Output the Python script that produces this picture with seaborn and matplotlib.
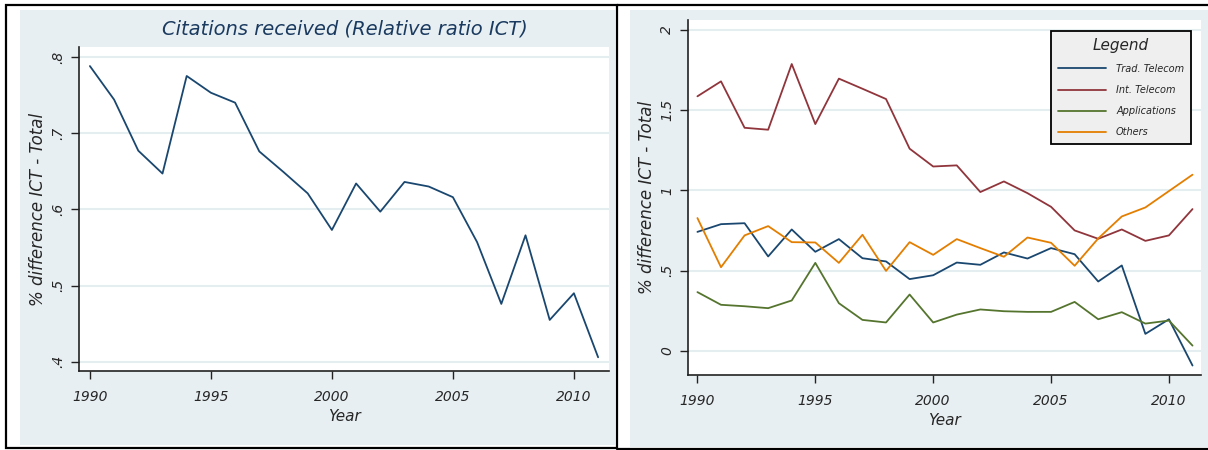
import pandas as pd
import matplotlib
matplotlib.use("Agg")
import matplotlib.pyplot as plt
from matplotlib.patches import Rectangle
from matplotlib.lines import Line2D
import seaborn as sns

# data
years = list(range(1990, 2012))

ict_ratio = [0.788, 0.744, 0.677, 0.647, 0.775, 0.753, 0.740, 0.676, 0.649, 0.621, 0.573,
             0.634, 0.597, 0.636, 0.630, 0.616, 0.557, 0.476, 0.566, 0.455, 0.490, 0.406]

trad_telecom = [0.741, 0.789, 0.795, 0.588, 0.756, 0.617, 0.696, 0.577, 0.557, 0.447, 0.471,
                0.550, 0.536, 0.613, 0.575, 0.640, 0.602, 0.432, 0.532, 0.106, 0.197, -0.091]
int_telecom = [1.585, 1.678, 1.389, 1.377, 1.786, 1.412, 1.695, 1.632, 1.568, 1.259, 1.148,
               1.155, 0.989, 1.055, 0.982, 0.897, 0.750, 0.698, 0.756, 0.685, 0.719, 0.883]
applications = [0.366, 0.287, 0.278, 0.266, 0.314, 0.548, 0.297, 0.193, 0.177, 0.351, 0.177,
                0.226, 0.258, 0.247, 0.243, 0.243, 0.305, 0.197, 0.241, 0.170, 0.189, 0.033]
others = [0.827, 0.521, 0.719, 0.777, 0.677, 0.675, 0.548, 0.723, 0.498, 0.677, 0.598,
          0.696, 0.640, 0.586, 0.706, 0.673, 0.530, 0.700, 0.837, 0.893, 0.995, 1.097]

series_names = ["Trad. Telecom", "Int. Telecom", "Applications", "Others"]
series_colors = ["#1a476f", "#90353b", "#55752f", "#e37e00"]

left_yticks = [0.4, 0.5, 0.6, 0.7, 0.8]
left_ylabels = [".4", ".5", ".6", ".7", ".8"]
right_yticks = [0, 0.5, 1, 1.5, 2]
right_ylabels = ["0", ".5", "1", "1.5", "2"]
xticks = [1990, 1995, 2000, 2005, 2010]

df_left = pd.DataFrame({"Year": years, "ratio": ict_ratio})
df_right = pd.DataFrame({"Year": years, "Trad. Telecom": trad_telecom, "Int. Telecom": int_telecom,
                         "Applications": applications, "Others": others})
df_right = df_right.melt(id_vars="Year", var_name="group", value_name="value")

sns.set_style("white")
plt.rcParams["font.family"] = ["DejaVu Sans"]
plt.rcParams["font.style"] = "italic"

BG = "#e8eff2"
GRID = "#e4edf0"
W, H = 1208, 450

fig = plt.figure(figsize=(12.08, 4.5), dpi=100)


def px_rect(x0, y0, x1, y1, **kw):
    # rectangle given in image pixels (top-left origin)
    return Rectangle((x0 / W, 1 - y1 / H), (x1 - x0) / W, (y1 - y0) / H,
                     transform=fig.transFigure, **kw)


# panel backgrounds and frames
fig.add_artist(px_rect(20, 10, 615, 445, facecolor=BG, edgecolor="none", zorder=0))
fig.add_artist(px_rect(630, 10, 1208, 447, facecolor=BG, edgecolor="none", zorder=0))
fig.add_artist(px_rect(6, 5, 617, 448, facecolor="none", edgecolor="black", lw=1.6, zorder=1))
fig.add_artist(Line2D([617 / W, 1], [1 - 5 / H, 1 - 5 / H], transform=fig.transFigure, color="black", lw=1.6))
fig.add_artist(Line2D([617 / W, 1], [1 - 448.5 / H, 1 - 448.5 / H], transform=fig.transFigure, color="black", lw=1.6))

ax1 = fig.add_axes([79 / W, 1 - 371 / H, 530 / W, 324 / H])
ax2 = fig.add_axes([688 / W, 1 - 375 / H, 513 / W, 355 / H])

sns.lineplot(data=df_left, x="Year", y="ratio", color="#1a476f", lw=1.3, ax=ax1)
sns.lineplot(data=df_right, x="Year", y="value", hue="group", hue_order=series_names,
             palette=series_colors, lw=1.3, ax=ax2)

for ax, yt, yl in [(ax1, left_yticks, left_ylabels), (ax2, right_yticks, right_ylabels)]:
    ax.set_facecolor("white")
    for s in ["top", "right"]:
        ax.spines[s].set_visible(False)
    for s in ["left", "bottom"]:
        ax.spines[s].set_color("#222222")
        ax.spines[s].set_linewidth(1.2)
    ax.set_yticks(yt)
    ax.set_yticklabels(yl, rotation=90, va="center", fontsize=10)
    ax.set_xticks(xticks)
    ax.set_xticklabels([str(t) for t in xticks], fontsize=10)
    ax.tick_params(axis="both", length=6, width=1, color="#222222", left=True, bottom=True)
    ax.tick_params(axis="x", pad=8)
    ax.tick_params(axis="y", pad=4)
    ax.yaxis.grid(True, color=GRID, lw=1.5)
    ax.xaxis.grid(False)
    ax.set_axisbelow(True)
    ax.set_xlabel("Year", fontsize=11, labelpad=3)
    ax.set_ylabel("% difference ICT - Total", fontsize=12, labelpad=3)

ax1.set_xlim(1989.55, 2011.45)
ax1.set_ylim(0.388, 0.813)
ax2.set_xlim(1989.6, 2011.36)
ax2.set_ylim(-0.15, 2.06)

fig.text(345 / W, 1 - 29 / H, "Citations received (Relative ratio ICT)", ha="center", va="center",
         fontsize=14, color="#1a3a5f")

handles, labels = ax2.get_legend_handles_labels()
leg = ax2.legend(handles, labels, title="Legend", loc="upper right", bbox_to_anchor=(0.99, 0.983),
                 fontsize=7, title_fontsize=11, frameon=True, fancybox=False, facecolor="#efefef",
                 edgecolor="black", framealpha=1, handlelength=5.0, labelspacing=1.15,
                 borderpad=0.7, handletextpad=1.0)
leg.get_frame().set_linewidth(1.3)

fig.savefig("out.png", dpi=100)
